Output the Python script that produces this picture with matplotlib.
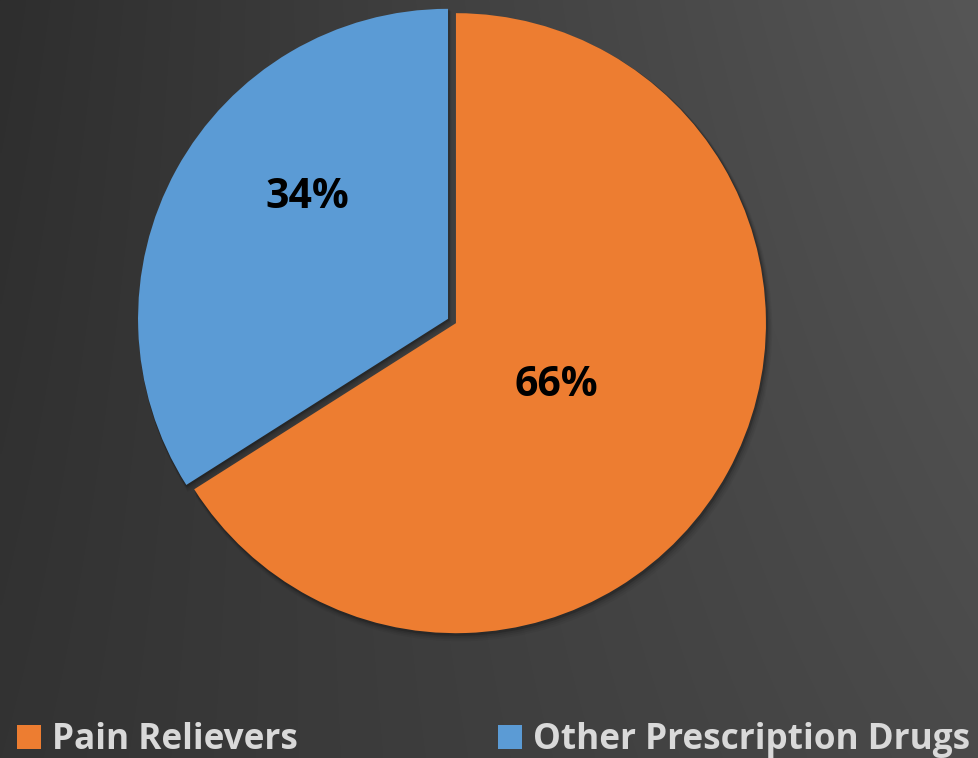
import numpy as np
import matplotlib
matplotlib.use("Agg")
import matplotlib.pyplot as plt
from matplotlib.patches import Wedge, Rectangle

# 数据
labels = ["Pain Relievers", "Other Prescription Drugs"]
shares = [66, 34]
colors = ["#ED7D31", "#5B9BD5"]

W, H = 979, 758
fig = plt.figure(figsize=(W / 100, H / 100), dpi=100)

# 背景渐变（左暗右亮）
bg = fig.add_axes([0, 0, 1, 1])
corners = np.array([[0x2e, 0x56], [0x33, 0x4a]], dtype=float) / 255.0
yy, xx = np.mgrid[0:1:200j, 0:1:260j]
grad = (corners[0, 0] * (1 - xx) * (1 - yy) + corners[0, 1] * xx * (1 - yy)
        + corners[1, 0] * (1 - xx) * yy + corners[1, 1] * xx * yy)
bg.imshow(np.dstack([grad] * 3), extent=[0, 1, 0, 1], aspect="auto", interpolation="bilinear")
bg.axis("off")

# 饼图
ax = fig.add_axes([0, 0, 1, 1])
ax.patch.set_alpha(0)
cx, cy, R = 452, 321, 310.0  # 像素
wedges, _ = ax.pie(shares, colors=colors, startangle=90, counterclock=False,
                   explode=[4.5 / R, 4.5 / R], radius=1.0,
                   wedgeprops=dict(linewidth=0, zorder=3))
ax.set_xlim(-cx / R, (W - cx) / R)
ax.set_ylim((cy - H) / R, cy / R)
ax.set_aspect("equal", adjustable="box")
ax.axis("off")

# 阴影（模糊效果）
for w in wedges:
    for d, a in [(9, 0.06), (7, 0.08), (5, 0.12), (3, 0.25)]:
        sh = Wedge((w.center[0] + d * 0.4 / R, w.center[1] - d * 0.6 / R), w.r + d * 0.3 / R,
                   w.theta1, w.theta2, facecolor="#111111", alpha=a, linewidth=0, zorder=1)
        ax.add_patch(sh)

# 百分比标签
label_pos = [(556, 386), (307, 198)]
for s, (px, py) in zip(shares, label_pos):
    ax.text((px - cx) / R, (cy - py) / R, f"{s}%", ha="center", va="center",
            fontsize=29.5, fontweight="bold", color="black", family="Open Sans", zorder=5)

# 图例
leg_x = [17, 498]
base = 9
for lab, c, x0 in zip(labels, colors, leg_x):
    fig.patches.append(Rectangle((x0 / W, base / H), 24 / W, 24 / H, transform=fig.transFigure,
                                 facecolor=c, linewidth=0))
    fig.text((x0 + 35) / W, base / H, lab, ha="left", va="baseline", fontsize=25.3,
             fontweight="bold", color="#d9d9d9", family="Open Sans")

fig.savefig("out.png", dpi=100)
